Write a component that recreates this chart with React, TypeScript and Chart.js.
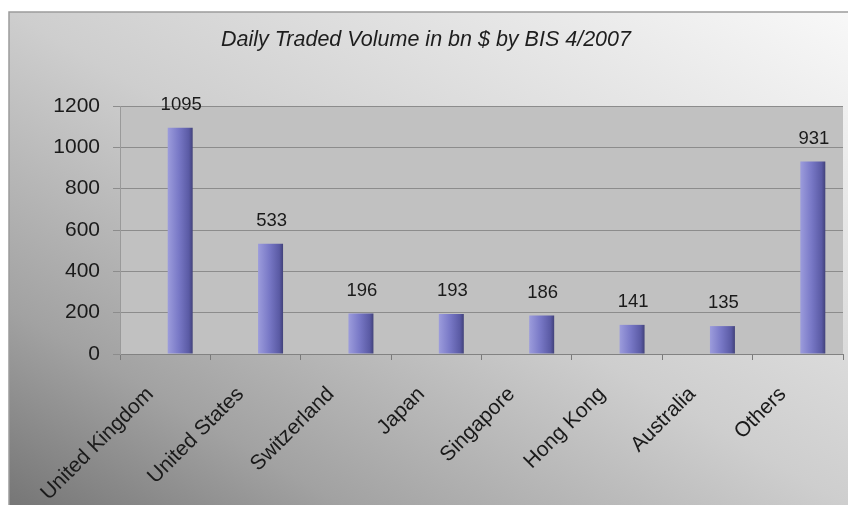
import React, { useEffect, useRef } from "react";
import { Chart, registerables } from "chart.js";

Chart.register(...registerables);

const chartTitle = "Daily Traded Volume in bn $ by BIS 4/2007";
const categories = [
  "United Kingdom",
  "United States",
  "Switzerland",
  "Japan",
  "Singapore",
  "Hong Kong",
  "Australia",
  "Others",
];
const volumes = [1095, 533, 196, 193, 186, 141, 135, 931];
const spacer = categories.map(() => null);
const yMin = 0;
const yMax = 1200;
const yStep = 200;

const FONT = "'Liberation Sans', Arial, sans-serif";

const backgroundPlugin = {
  id: "bgPlugin",
  beforeDraw(chart: any) {
    const { ctx, chartArea } = chart;
    const W = chart.width;
    const H = chart.height;
    ctx.save();
    const x0 = 9;
    const y0 = 12;
    const g = ctx.createLinearGradient(x0, H, 440, -228);
    g.addColorStop(0, "#767676");
    g.addColorStop(0.2, "#a2a2a2");
    g.addColorStop(0.5, "#cecece");
    g.addColorStop(1, "#f8f8f8");
    ctx.fillStyle = g;
    ctx.fillRect(x0, y0, W - x0, H - y0);
    ctx.strokeStyle = "#9c9c9c";
    ctx.lineWidth = 1.5;
    ctx.beginPath();
    ctx.moveTo(x0, H);
    ctx.lineTo(x0, y0);
    ctx.lineTo(W, y0);
    ctx.stroke();
    // plot area
    ctx.fillStyle = "#c1c1c1";
    ctx.fillRect(
      chartArea.left,
      chartArea.top,
      chartArea.right - chartArea.left,
      chartArea.bottom - chartArea.top
    );
    // title
    ctx.fillStyle = "#1e1e1e";
    ctx.font = `italic 21.5px ${FONT}`;
    ctx.textAlign = "center";
    ctx.textBaseline = "middle";
    ctx.fillText(chartTitle, 426, 40);
    ctx.restore();
  },
  afterDatasetsDraw(chart: any) {
    const { ctx } = chart;
    const meta = chart.getDatasetMeta(1);
    ctx.save();
    ctx.fillStyle = "#1a1a1a";
    ctx.font = `18.5px ${FONT}`;
    ctx.textAlign = "center";
    ctx.textBaseline = "middle";
    meta.data.forEach((el: any, i: number) => {
      const v = chart.data.datasets[1].data[i];
      if (v == null) return;
      ctx.fillText(String(v), el.x + 1, el.y - 23);
    });
    ctx.restore();
  },
};

function barFill(c: any) {
  const chart = c.chart;
  const meta = chart.getDatasetMeta(c.datasetIndex);
  const el = meta && meta.data ? meta.data[c.dataIndex] : null;
  if (!el || typeof el.x !== "number" || !el.width || isNaN(el.x)) return "#7272c2";
  const l = el.x - el.width / 2;
  const r = el.x + el.width / 2;
  const g = chart.ctx.createLinearGradient(l, 0, r, 0);
  g.addColorStop(0, "#9c9cdc");
  g.addColorStop(0.45, "#7878c6");
  g.addColorStop(0.85, "#5a5aa4");
  g.addColorStop(1, "#42427a");
  return g;
}

export default function App() {
  const canvasRef = useRef<HTMLCanvasElement | null>(null);

  useEffect(() => {
    if (!canvasRef.current) return;
    const chart = new Chart(canvasRef.current, {
      type: "bar",
      data: {
        labels: categories,
        datasets: [
          {
            label: "spacer",
            data: spacer as any,
            backgroundColor: "rgba(0,0,0,0)",
            categoryPercentage: 0.664,
            barPercentage: 0.833,
          },
          {
            label: "Daily traded volume",
            data: volumes,
            backgroundColor: barFill as any,
            borderWidth: 0,
            categoryPercentage: 0.664,
            barPercentage: 0.833,
          },
        ],
      },
      options: {
        responsive: false,
        animation: false,
        events: [],
        layout: { padding: { left: 0, right: 5, top: 106, bottom: 0 } },
        plugins: {
          legend: { display: false },
          title: { display: false },
          tooltip: { enabled: false },
        },
        scales: {
          x: {
            offset: true,
            grid: {
              offset: true,
              drawOnChartArea: false,
              drawTicks: true,
              tickLength: 6,
              color: "#7a7a7a",
            },
            border: { display: true, color: "#828282", width: 1 },
            ticks: {
              maxRotation: 45,
              minRotation: 45,
              autoSkip: false,
              labelOffset: -15,
              padding: 22,
              color: "#1a1a1a",
              font: { family: FONT, size: 21 },
            },
            afterFit(scale: any) {
              scale.height = 151;
            },
          },
          y: {
            min: yMin,
            max: yMax,
            ticks: {
              stepSize: yStep,
              padding: 13,
              color: "#1a1a1a",
              font: { family: FONT, size: 21 },
              callback: (v: any) => String(v),
            },
            grid: {
              color: "#8c8c8c",
              lineWidth: 1,
              tickLength: 7,
              drawTicks: true,
            },
            border: { display: true, color: "#9a9a9a", width: 1 },
            afterFit(scale: any) {
              scale.width = 120;
            },
          },
        },
      },
      plugins: [backgroundPlugin],
    });
    chart.update();
    return () => chart.destroy();
  }, []);

  return (
    <div style={{ position: "fixed", left: 0, top: 0, width: 848, height: 505 }}>
      <canvas ref={canvasRef} width={848} height={505} style={{ display: "block" }} />
    </div>
  );
}
